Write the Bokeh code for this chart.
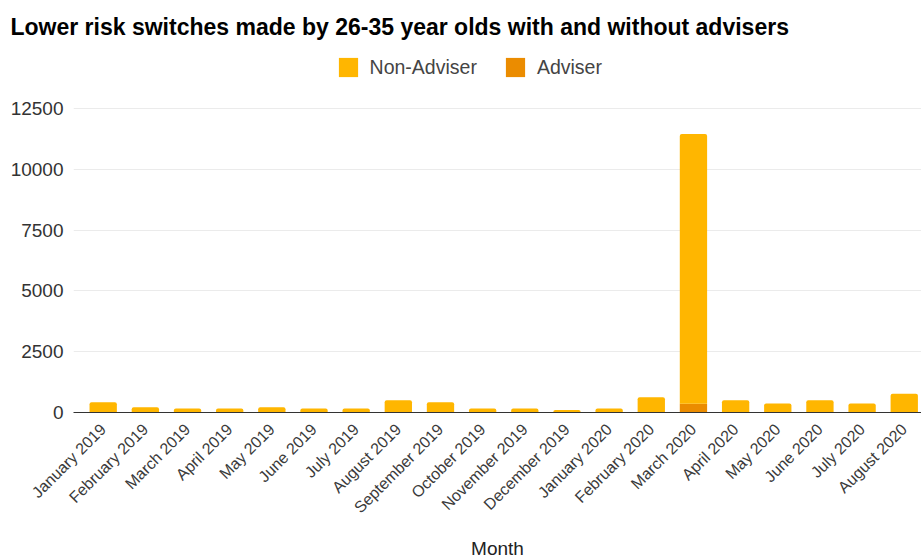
from bokeh.plotting import figure
from bokeh.models import ColumnDataSource, Legend, LegendItem, FixedTicker, Range1d
from bokeh.embed import file_html
from bokeh.resources import INLINE

months = ["January 2019", "February 2019", "March 2019", "April 2019", "May 2019",
          "June 2019", "July 2019", "August 2019", "September 2019", "October 2019",
          "November 2019", "December 2019", "January 2020", "February 2020",
          "March 2020", "April 2020", "May 2020", "June 2020", "July 2020", "August 2020"]
non_adviser = [408, 212, 154, 155, 212, 154, 155, 485, 408, 154,
               155, 96, 154, 610, 11090, 485, 360, 486, 360, 748]
adviser = [12, 8, 6, 5, 8, 6, 5, 15, 12, 6,
           5, 4, 6, 20, 360, 15, 10, 14, 10, 22]
y_ticks = [0, 2500, 5000, 7500, 10000, 12500]
title_text = "Lower risk switches made by 26-35 year olds with and without advisers"

FONT = "Liberation Sans"
C_NON = "#FFB600"
C_ADV = "#EB8C00"

idx = list(range(len(months)))
src = ColumnDataSource(dict(x=idx, months=months, non_adviser=non_adviser, adviser=adviser))

p = figure(frame_width=848, frame_height=372, output_backend="svg", toolbar_location=None,
           x_range=Range1d(-0.7045, 19.409), y_range=Range1d(0, 15296),
           min_border_left=73, min_border_right=0, min_border_top=40, min_border_bottom=146)

rs = p.vbar_stack(["adviser", "non_adviser"], x="x", width=0.648, source=src,
                  color=[C_ADV, C_NON], line_color=None)
rs[1].glyph.border_radius = (2, 2, 0, 0)

p.title.text = title_text
p.title.text_font = FONT
p.title.text_font_size = "23px"
p.title.text_font_style = "bold"
p.title.text_color = "#000000"
p.title.align = "left"
p.title.offset = -63
p.title.standoff = 2

legend = Legend(items=[LegendItem(label="Non-Adviser", renderers=[rs[1]]),
                       LegendItem(label="Adviser", renderers=[rs[0]])],
                orientation="horizontal", location=(262.6, 333),
                glyph_width=24, glyph_height=24, label_standoff=10, spacing=26,
                label_text_font=FONT, label_text_font_size="19.5px", label_text_color="#444444",
                border_line_color=None, background_fill_alpha=0,
                padding=0, margin=0)
p.add_layout(legend)

p.xaxis.ticker = FixedTicker(ticks=idx)
p.xaxis.major_label_overrides = {i: m for i, m in zip(idx, months)}
p.xaxis.major_label_orientation = 0.785398
p.xaxis.major_label_text_font = FONT
p.xaxis.major_label_text_font_size = "16px"
p.xaxis.major_label_text_color = "#3a3a3a"
p.xaxis.major_tick_line_color = None
p.xaxis.minor_tick_line_color = None
p.xaxis.axis_line_color = "#333333"
p.xaxis.axis_line_width = 1
p.xaxis.major_label_standoff = 8
p.xaxis.axis_label = "Month"
p.xaxis.axis_label_text_font = FONT
p.xaxis.axis_label_text_font_size = "19px"
p.xaxis.axis_label_text_font_style = "normal"
p.xaxis.axis_label_text_color = "#222222"
p.xaxis.axis_label_standoff = 13

p.yaxis.ticker = FixedTicker(ticks=y_ticks)
p.yaxis.major_label_text_font = FONT
p.yaxis.major_label_text_font_size = "19px"
p.yaxis.major_label_text_color = "#333333"
p.yaxis.axis_line_color = None
p.yaxis.major_tick_line_color = None
p.yaxis.minor_tick_line_color = None
p.yaxis.major_label_standoff = 4

p.xgrid.grid_line_color = None
p.ygrid.grid_line_color = "#ebebeb"
p.ygrid.grid_line_width = 1
p.outline_line_color = None

open("out.html", "w").write(file_html(p, INLINE))
